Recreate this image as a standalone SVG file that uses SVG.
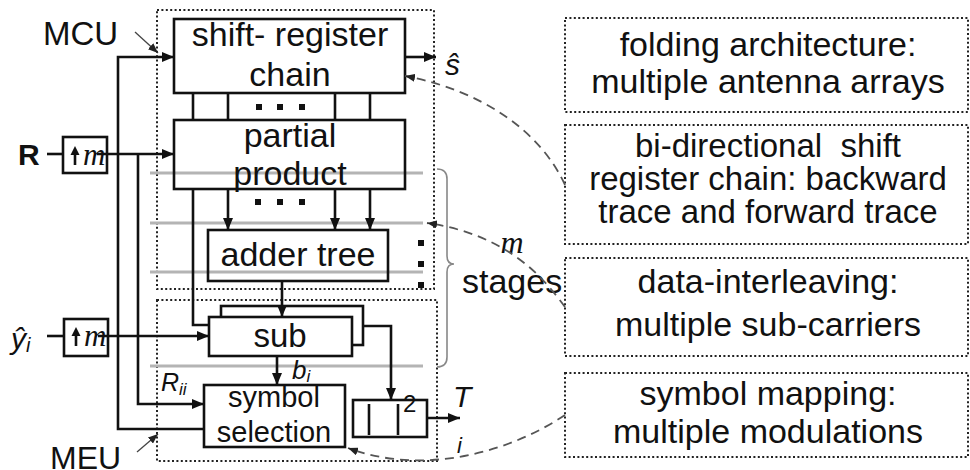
<svg xmlns="http://www.w3.org/2000/svg" width="970" height="470" viewBox="0 0 970 470">
<defs>
<style>
.box{fill:none;stroke:#111;stroke-width:2.6}
.wbox{fill:#fff;stroke:#111;stroke-width:2.6}
.dot{fill:none;stroke:#222;stroke-width:2;stroke-dasharray:2 2.4}
.w{fill:none;stroke:#111;stroke-width:2.6}
.g{fill:none;stroke:#b4b4b4;stroke-width:3.2}
.dash{fill:none;stroke:#555;stroke-width:1.8;stroke-dasharray:9 6}
.thin{fill:none;stroke:#444;stroke-width:1.3}
.brace{fill:none;stroke:#888;stroke-width:1.6}
.t{font-family:"Liberation Sans",Arial,sans-serif;fill:#111}
.c{text-anchor:middle}
.it{font-style:italic}
.tm{font-family:"Liberation Serif","Times New Roman",serif;font-style:italic;fill:#111}
.sq{fill:#111}
</style>
<marker id="ah" viewBox="0 0 12 10" refX="12" refY="5" markerWidth="12" markerHeight="10" markerUnits="userSpaceOnUse" orient="auto"><path d="M0,0 L12,5 L0,10 z" fill="#111"/></marker>
<marker id="as" viewBox="0 0 10 8" refX="10" refY="4" markerWidth="10" markerHeight="8" markerUnits="userSpaceOnUse" orient="auto"><path d="M0,0 L10,4 L0,8 z" fill="#222"/></marker>
</defs>
<rect width="970" height="470" fill="#fff"/>

<g id="mcu">
<rect class="dot" x="157" y="10" width="277" height="279"/>
<text class="t" x="43" y="45" font-size="33">MCU</text>
</g>
<g id="meu">
<rect class="dot" x="157" y="300" width="280" height="161"/>
<text class="t" x="50" y="469" font-size="32">MEU</text>
</g>

<g id="stages">
<line class="g" x1="150" y1="173" x2="423" y2="173"/>
<line class="g" x1="150" y1="223" x2="423" y2="223"/>
<line class="g" x1="150" y1="272" x2="423" y2="272"/>
<line class="g" x1="150" y1="366" x2="423" y2="366"/>
<path class="brace" d="M437,169 Q447,169 447,179 V256 Q447,264 454,264 Q447,264 447,272 V357 Q447,367 437,367"/>
<text class="tm" x="512" y="253" font-size="32" text-anchor="middle">m</text>
<text class="t" x="462" y="293" font-size="34">stages</text>
<rect class="sq" x="418" y="240" width="6" height="6"/>
<rect class="sq" x="418" y="261" width="6" height="6"/>
<rect class="sq" x="418" y="282" width="6" height="6"/>
</g>

<g id="shift-register">
<rect class="box" x="174" y="19" width="231" height="74"/>
<text class="t c" x="290" y="46" font-size="34">shift- register</text>
<text class="t c" x="290" y="86" font-size="34">chain</text>
</g>
<g id="partial-product">
<rect class="box" x="174" y="120" width="231" height="69"/>
<text class="t c" x="290" y="147" font-size="34">partial</text>
<text class="t c" x="290" y="185" font-size="34">product</text>
</g>
<g id="adder-tree">
<rect class="box" x="208" y="230" width="180" height="51"/>
<text class="t c" x="298" y="266" font-size="34">adder tree</text>
</g>
<g id="sub">
<rect class="wbox" x="221" y="306" width="142" height="39"/>
<rect class="wbox" x="209" y="317" width="143" height="39"/>
<text class="t c" x="280" y="347" font-size="33">sub</text>
</g>
<g id="symbol-selection">
<rect class="box" x="204" y="385" width="141" height="62"/>
<text class="t c" x="274" y="407" font-size="29">symbol</text>
<text class="t c" x="274" y="442" font-size="29">selection</text>
</g>
<g id="magnitude">
<rect class="box" x="353" y="400" width="74" height="37"/>
<line class="w" x1="369" y1="404" x2="369" y2="435"/>
<line class="w" x1="398" y1="404" x2="398" y2="435"/>
<text class="t" x="403" y="412" font-size="24">2</text>
</g>
<g id="upsample-R">
<rect class="box" x="63" y="137" width="44" height="36"/>
<line class="w" x1="75" y1="165" x2="75" y2="153"/>
<path d="M70.5,155 L79.5,155 L75,146 z" fill="#111"/>
<text class="tm" x="83" y="165" font-size="31">m</text>
</g>
<g id="upsample-y">
<rect class="box" x="64" y="319" width="44" height="37"/>
<line class="w" x1="76" y1="346" x2="76" y2="334"/>
<path d="M71.5,336 L80.5,336 L76,327 z" fill="#111"/>
<text class="tm" x="84" y="346" font-size="31">m</text>
</g>

<g id="labels">
<text class="t" x="18" y="165" font-size="30" font-weight="bold">R</text>
<text class="t it" x="11" y="349" font-size="30">ŷ<tspan font-size="20" dy="3">i</tspan></text>
<text class="t it" x="445" y="75" font-size="30">ŝ</text>
<text class="t it" x="161" y="391" font-size="25">R<tspan font-size="17" dy="4">ii</tspan></text>
<text class="t it" x="292" y="379" font-size="26">b<tspan font-size="17" dy="3">i</tspan></text>
<text class="t it" x="453" y="407" font-size="30">T</text>
<text class="t it" x="457" y="453" font-size="22">i</text>
</g>

<g id="folding">
<rect class="dot" x="565" y="18" width="403" height="94"/>
<text class="t c" x="768" y="56" font-size="34">folding architecture:</text>
<text class="t c" x="768" y="93" font-size="34">multiple antenna arrays</text>
</g>
<g id="bidirectional">
<rect class="dot" x="565" y="125" width="403" height="119"/>
<text class="t c" x="768" y="157" font-size="33" xml:space="preserve">bi-directional  shift</text>
<text class="t c" x="768" y="190" font-size="33">register chain: backward</text>
<text class="t c" x="768" y="223" font-size="33">trace and forward trace</text>
</g>
<g id="interleaving">
<rect class="dot" x="565" y="258" width="403" height="98"/>
<text class="t c" x="768" y="293" font-size="34">data-interleaving:</text>
<text class="t c" x="768" y="336" font-size="34">multiple sub-carriers</text>
</g>
<g id="mapping">
<rect class="dot" x="565" y="373" width="403" height="84"/>
<text class="t c" x="768" y="405" font-size="34">symbol mapping:</text>
<text class="t c" x="768" y="443" font-size="34">multiple modulations</text>
</g>

<g id="connectors">
<line class="w" x1="193" y1="93" x2="193" y2="120"/>
<line class="w" x1="228" y1="93" x2="228" y2="120"/>
<line class="w" x1="335" y1="93" x2="335" y2="120"/>
<line class="w" x1="370" y1="93" x2="370" y2="120"/>
<rect class="sq" x="256" y="104" width="6" height="6"/>
<rect class="sq" x="277" y="104" width="6" height="6"/>
<rect class="sq" x="299" y="104" width="6" height="6"/>
<path class="w" d="M193,189 V325 H209"/>
<line class="w" x1="228" y1="189" x2="228" y2="230" marker-end="url(#ah)"/>
<line class="w" x1="335" y1="189" x2="335" y2="230" marker-end="url(#ah)"/>
<line class="w" x1="370" y1="189" x2="370" y2="230" marker-end="url(#ah)"/>
<rect class="sq" x="255" y="199" width="6" height="6"/>
<rect class="sq" x="277" y="199" width="6" height="6"/>
<rect class="sq" x="299" y="199" width="6" height="6"/>
<line class="w" x1="282" y1="281" x2="282" y2="317" marker-end="url(#ah)"/>
<line class="w" x1="277" y1="356" x2="277" y2="385" marker-end="url(#ah)"/>
<path class="w" d="M363,326 H391 V400" marker-end="url(#ah)"/>
<line class="w" x1="427" y1="418" x2="460" y2="418" marker-end="url(#ah)"/>
<line class="w" x1="405" y1="57" x2="436" y2="57" marker-end="url(#ah)"/>
<line class="w" x1="47" y1="154" x2="63" y2="154"/>
<line class="w" x1="97" y1="154" x2="174" y2="154" marker-end="url(#ah)"/>
<path class="w" d="M204,429 H118 V57 H174" marker-end="url(#ah)"/>
<path class="w" d="M138,154 V404 H204" marker-end="url(#ah)"/>
<line class="w" x1="47" y1="336" x2="64" y2="336"/>
<line class="w" x1="98" y1="336" x2="209" y2="336" marker-end="url(#ah)"/>
<line class="thin" x1="135" y1="32" x2="158" y2="53" marker-end="url(#as)"/>
<line class="thin" x1="137" y1="452" x2="158" y2="434" marker-end="url(#as)"/>
<path class="dash" d="M565,185 C540,130 480,90 405,76" marker-end="url(#as)"/>
<path class="dash" d="M565,307 C545,280 510,235 427,223" marker-end="url(#as)"/>
<path class="dash" d="M565,415 C505,455 420,475 348,448" marker-end="url(#as)"/>
</g>
</svg>
